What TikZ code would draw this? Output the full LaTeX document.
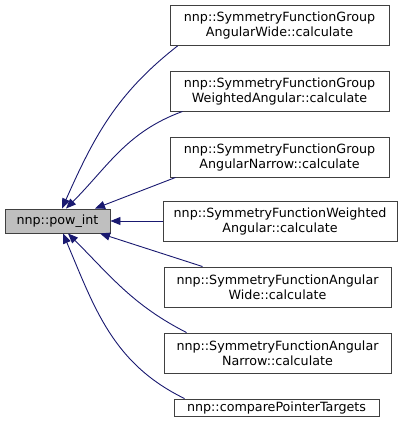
\documentclass[tikz,border=0pt]{standalone}
\usepackage{fontspec}
\setmainfont{DejaVu Sans}
\usetikzlibrary{arrows.meta}
\definecolor{edgeline}{HTML}{191970}
\definecolor{boxline}{HTML}{404040}
\definecolor{rootfill}{HTML}{BFBFBF}
\tikzset{
  fn/.style={
    draw=boxline,
    fill=white,
    line width=0.9pt,
    align=center,
    font=\fontsize{12.7}{15}\selectfont,
    inner sep=0pt,
    minimum height=40pt,
  },
  root/.style={fn, fill=rootfill, minimum height=24pt},
  call/.style={-{Triangle[length=10pt, width=8pt]}, draw=edgeline, line width=0.9pt},
}

\begin{document}
\begin{tikzpicture}[x=1pt, y=1pt]
\useasboundingbox (0,0) rectangle (401,-430);

% Callee
\node[root, minimum width=105pt] (pow) at (57.5,-221) {nnp::pow\_int};

% Callers (top to bottom)
\node[fn, minimum width=219pt] (f1) at (279.5,-25.5) {nnp::SymmetryFunctionGroup\\AngularWide::calculate};
\node[fn, minimum width=219pt] (f2) at (279.5,-91) {nnp::SymmetryFunctionGroup\\WeightedAngular::calculate};
\node[fn, minimum width=219pt] (f3) at (279.5,-157) {nnp::SymmetryFunctionGroup\\AngularNarrow::calculate};
\node[fn, minimum width=234pt] (f4) at (280,-221) {nnp::SymmetryFunctionWeighted\\Angular::calculate};
\node[fn, minimum width=227pt] (f5) at (277.5,-287) {nnp::SymmetryFunctionAngular\\Wide::calculate};
\node[fn, minimum width=227pt] (f6) at (277.5,-353) {nnp::SymmetryFunctionAngular\\Narrow::calculate};
\node[fn, minimum width=205pt, minimum height=17pt] (f7) at (276.5,-407.5) {nnp::comparePointerTargets};

% --- Call edges -------------------------------------------------------
\draw[call] ([xshift=8pt]f1.south west) to[out=218, in=66] ([xshift=4.5pt]pow.north);
\draw[call] ([xshift=13pt]f2.south west) to[out=200, in=45] ([xshift=8.5pt]pow.north);
\draw[call] ([xshift=6pt]f3.south west) -- ([xshift=37.5pt]pow.north);
\draw[call] (f4.west) -- (pow.east);
\draw[call] ([xshift=39pt]f5.north west) -- ([xshift=42.5pt]pow.south);
\draw[call] ([xshift=23pt]f6.north west) to[out=153, in=-45] ([xshift=10.5pt]pow.south);
\draw[call] ([xshift=11pt]f7.north west) to[out=154, in=-67] ([xshift=5.5pt]pow.south);

\end{tikzpicture}
\end{document}
